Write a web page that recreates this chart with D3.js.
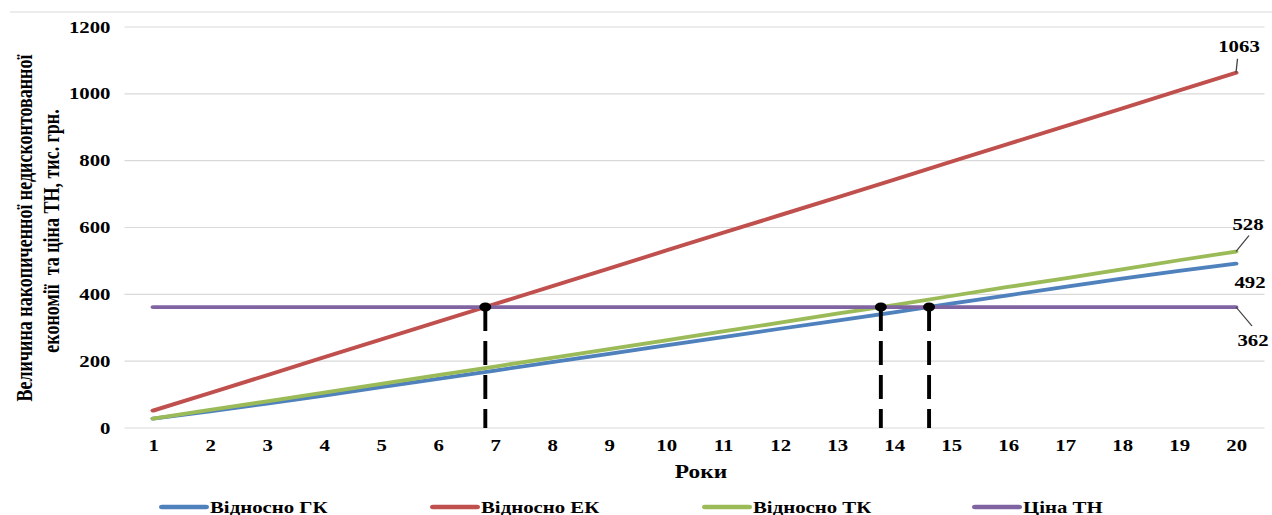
<!DOCTYPE html>
<html>
<head>
<meta charset="utf-8">
<script src="https://cdn.jsdelivr.net/npm/d3@7"></script>
<style>
  html, body { margin: 0; padding: 0; background: #fff; }
  svg { display: block; }
  text { font-family: "Liberation Serif", "Times New Roman", serif; font-weight: bold; fill: #000; }
</style>
</head>
<body>
<svg id="chart"></svg>
<script>
// Years of operation
const years = [1, 2, 3, 4, 5, 6, 7, 8, 9, 10, 11, 12, 13, 14, 15, 16, 17, 18, 19, 20];

// Accumulated undiscounted savings, thousand UAH
const vsGK = [28, 50, 73, 97, 122, 147, 172, 197, 222, 247, 272, 297, 321, 346, 372, 397, 422, 447, 470, 492];
const vsEK = [52, 105, 158, 212, 265, 318, 371, 424, 477, 531, 584, 637, 690, 743, 797, 850, 903, 956, 1010, 1063];
const vsTK = [28, 54, 80, 106, 132, 158, 184, 210, 236, 262, 289, 315, 342, 368, 395, 422, 448, 475, 502, 528];
// Heat pump price, thousand UAH
const priceTN = [362, 362, 362, 362, 362, 362, 362, 362, 362, 362, 362, 362, 362, 362, 362, 362, 362, 362, 362, 362];

const yTicks = [0, 200, 400, 600, 800, 1000, 1200];

const seriesNames = ["Відносно ГК", "Відносно ЕК", "Відносно ТК", "Ціна ТН"];
const seriesColors = ["#4F81BD", "#C0504D", "#9BBB59", "#8064A2"];
const seriesValues = [vsGK, vsEK, vsTK, priceTN];

const yTitle1 = "Величина накопиченної недисконтованної";
const yTitle2 = "економії  та ціна ТН, тис. грн.";
const xTitle = "Роки";

// The drawing is laid out in a horizontally condensed frame and stretched to the page width.
const SX = 1.3;
const PW = 1272, PH = 515;
const VW = PW / SX;
const ux = p => p / SX;

const svg = d3.select("#chart")
  .attr("width", PW).attr("height", PH)
  .attr("viewBox", `0 0 ${VW} ${PH}`)
  .attr("preserveAspectRatio", "none");

const x = d3.scaleLinear().domain([1, 20]).range([ux(153), ux(1236)]);
const y = d3.scaleLinear().domain([0, 1200]).range([428, 27]);
const gridL = x(0.5), gridR = x(20.5);

// top frame edge
svg.append("line")
  .attr("x1", ux(10)).attr("x2", VW).attr("y1", 12).attr("y2", 12)
  .attr("stroke", "#d9d9d9").attr("stroke-width", 1.2);

// horizontal gridlines
svg.append("g").selectAll("line").data(yTicks).join("line")
  .attr("x1", gridL).attr("x2", gridR)
  .attr("y1", d => y(d)).attr("y2", d => y(d))
  .attr("stroke", "#d9d9d9").attr("stroke-width", 1.2);

// y axis labels
const yAxis = svg.append("g")
  .attr("transform", `translate(${gridL},0)`)
  .call(d3.axisLeft(y).tickValues(yTicks).tickSize(0).tickPadding(ux(14)).tickFormat(d3.format("d")));
yAxis.select(".domain").remove();
yAxis.selectAll("text").attr("font-size", 16).attr("font-family", null).style("font-weight", "bold");

// x axis labels
const xAxis = svg.append("g")
  .attr("transform", `translate(0,${y(0)})`)
  .call(d3.axisBottom(x).tickValues(years).tickSize(0).tickPadding(12).tickFormat(d3.format("d")));
xAxis.select(".domain").remove();
xAxis.selectAll("text").attr("font-size", 16).attr("font-family", null).style("font-weight", "bold");

// axis titles
svg.append("text")
  .attr("x", ux(701)).attr("y", 478)
  .attr("text-anchor", "middle").attr("font-size", 18)
  .text(xTitle);

svg.append("text")
  .attr("transform", `translate(${ux(32)},228) rotate(-90)`)
  .attr("text-anchor", "middle").attr("font-size", 18)
  .text(yTitle1);
svg.append("text")
  .attr("transform", `translate(${ux(59)},231) rotate(-90)`)
  .attr("text-anchor", "middle").attr("font-size", 18)
  .style("white-space", "pre")
  .text(yTitle2);

// payback points: where each savings curve reaches the heat pump price
function crossing(vals, price) {
  for (let i = 0; i < vals.length - 1; i++) {
    if (vals[i] < price[i] && vals[i + 1] >= price[i + 1]) {
      const t = (price[i] - vals[i]) / ((vals[i + 1] - vals[i]) - (price[i + 1] - price[i]));
      return { yr: years[i] + t * (years[i + 1] - years[i]), v: price[i] + t * (price[i + 1] - price[i]) };
    }
  }
  return null;
}
const crossPts = [vsEK, vsTK, vsGK].map(s => crossing(s, priceTN)).filter(Boolean);

// series lines
const line = d3.line().x((d, i) => x(years[i])).y(d => y(d));
svg.append("g").selectAll("path").data(seriesValues).join("path")
  .attr("d", d => line(d))
  .attr("fill", "none")
  .attr("stroke", (d, i) => seriesColors[i])
  .attr("stroke-width", 3.8)
  .attr("stroke-linecap", "round")
  .attr("stroke-linejoin", "round");

// dashed drop lines and markers
const marks = svg.append("g");
marks.selectAll("line").data(crossPts).join("line")
  .attr("x1", d => x(d.yr)).attr("x2", d => x(d.yr))
  .attr("y1", d => y(d.v)).attr("y2", y(0))
  .attr("stroke", "#000").attr("stroke-width", 3)
  .attr("stroke-dasharray", "24 10");
marks.selectAll("circle").data(crossPts).join("circle")
  .attr("cx", d => x(d.yr)).attr("cy", d => y(d.v))
  .attr("r", 4.6).attr("fill", "#000");

// end-of-period value labels
const last = years.length - 1;
const endLabels = [
  { vals: vsEK, dx: 3, dy: -21, leader: [1.5, -14] },
  { vals: vsTK, dx: 12, dy: -22, leader: [13, -16] },
  { vals: vsGK, dx: 14, dy: 24, leader: null },
  { vals: priceTN, dx: 17, dy: 39, leader: [16, 19] }
];
const lab = svg.append("g");
endLabels.forEach(l => {
  const v = l.vals[last];
  const px = x(years[last]), py = y(v);
  if (l.leader) {
    lab.append("line")
      .attr("x1", px).attr("y1", py)
      .attr("x2", px + ux(l.leader[0])).attr("y2", py + l.leader[1])
      .attr("stroke", "#404040").attr("stroke-width", 1);
  }
  lab.append("text")
    .attr("x", px + ux(l.dx)).attr("y", py + l.dy)
    .attr("text-anchor", "middle").attr("font-size", 16)
    .text(v);
});

// legend
const legendX = [162, 433, 705, 975];
const leg = svg.append("g").selectAll("g").data(seriesNames).join("g")
  .attr("transform", (d, i) => `translate(${ux(legendX[i])},507)`);
leg.append("line")
  .attr("x1", 0).attr("x2", ux(44)).attr("y1", 0).attr("y2", 0)
  .attr("stroke", (d, i) => seriesColors[i])
  .attr("stroke-width", 4.5).attr("stroke-linecap", "round");
leg.append("text")
  .attr("x", ux(48)).attr("y", 5.5)
  .attr("font-size", 16)
  .text(d => d);
</script>
</body>
</html>
